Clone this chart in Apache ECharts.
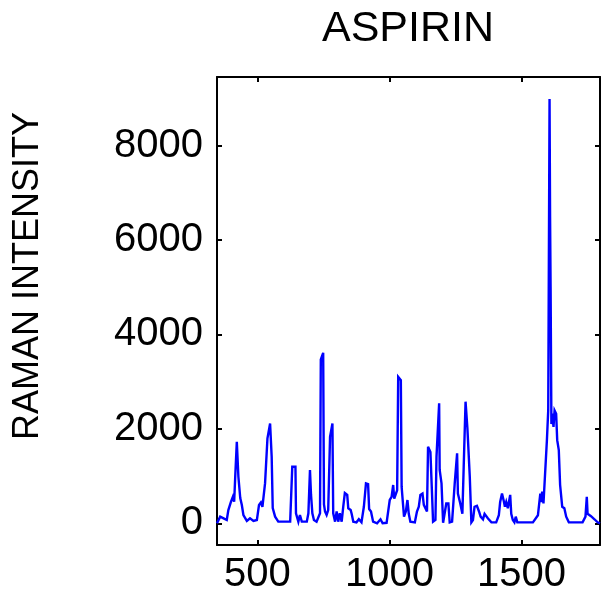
<!DOCTYPE html>
<html>
<head>
<meta charset="utf-8">
<script src="https://cdn.jsdelivr.net/npm/echarts@6/dist/echarts.min.js"></script>
<style>
html,body{margin:0;padding:0;background:#fff;}
#chart{width:603px;height:596px;}
</style>
</head>
<body>
<div id="chart"></div>
<script>
const titleText = "ASPIRIN";
const yAxisTitle = "RAMAN INTENSITY";
const xTicks = [500, 1000, 1500];
const yTicks = [0, 2000, 4000, 6000, 8000];

const wavenumber = [
  347,359,372,384,390,400,407,412,416,422,428,435,441,447,460,472,485,498,506,513,
  519,529,538,548,554,558,567,579,624,630,632,644,646,651,655,661,668,687,693,699,
  703,708,714,724,737,740,749,752,756,762,768,775,784,787,794,800,806,812,819,825,
  831,835,840,844,853,857,863,875,884,894,903,911,919,923,930,938,953,966,974,989,
  1001,1008,1014,1018,1024,1029,1033,1043,1046,1052,1055,1062,1068,1073,1079,1096,1104,1111,1117,1125,
  1130,1137,1142,1146,1155,1161,1165,1174,1178,1188,1190,1197,1203,1209,1215,1223,1228,1237,1247,1256,
  1259,1268,1276,1281,1288,1295,1304,1310,1316,1322,1331,1339,1345,1354,1360,1367,1373,1386,1404,1414,
  1419,1426,1432,1437,1442,1448,1457,1461,1467,1473,1478,1484,1543,1562,1571,1575,1578,1583,1590,1596,
  1601,1606,1608,1610,1613,1616,1621,1625,1631,1635,1641,1646,1650,1654,1662,1669,1679,1731,1742,1747,
  1750,1763,1776,1788,1797
];
const intensity = [
  0,140,105,70,280,456,560,456,985,1725,985,535,387,175,50,105,50,70,387,440,
  350,850,1800,2114,1410,320,140,34,34,70,1197,1197,211,175,34,175,34,34,211,1127,
  600,211,70,34,211,3470,3610,400,250,175,280,1830,2114,211,34,250,34,211,34,350,
  640,668,600,317,281,197,34,20,85,20,350,845,830,300,250,34,0,85,0,10,
  493,560,810,520,540,700,3100,3030,770,350,140,250,493,200,34,20,250,350,600,630,
  390,350,250,1620,1510,630,34,70,1410,2540,1130,845,10,0,420,420,20,34,845,1480,
  630,420,200,1200,2575,2010,985,20,70,350,370,250,140,85,200,170,100,20,20,170,
  450,630,490,350,450,317,600,200,70,20,140,20,20,170,630,450,670,420,420,1760,
  2390,8985,6500,5000,2100,2320,2040,2390,2320,1760,1550,810,775,350,317,140,20,20,140,560,
  200,150,85,20,0
];

const seriesData = wavenumber.map((w, i) => [w, intensity[i]]);

const FONT = "'Liberation Sans', Arial, Helvetica, sans-serif";
const chart = echarts.init(document.getElementById('chart'), null, {renderer: 'canvas'});

const axisLineStyle = {show: true, onZero: false, lineStyle: {color: '#000', width: 2}};
const tickStyle = {color: '#000', width: 2};
const plain = v => String(v);

chart.setOption({
  animation: false,
  backgroundColor: '#fff',
  grid: {left: 217, right: 3, top: 77, bottom: 51, containLabel: false},
  xAxis: [
    {type: 'value', min: 347, max: 1797, position: 'bottom',
      axisLine: axisLineStyle, splitLine: {show: false},
      axisTick: {show: true, inside: true, length: 5, lineStyle: tickStyle, customValues: xTicks},
      axisLabel: {show: true, customValues: xTicks, formatter: plain, color: '#000', fontFamily: FONT, fontSize: 40, margin: 10}},
    {type: 'value', min: 347, max: 1797, position: 'top',
      axisLine: axisLineStyle, splitLine: {show: false},
      axisTick: {show: true, inside: true, length: 5, lineStyle: tickStyle, customValues: xTicks},
      axisLabel: {show: false}}
  ],
  yAxis: [
    {type: 'value', min: -460, max: 9450, position: 'left',
      axisLine: axisLineStyle, splitLine: {show: false},
      axisTick: {show: true, inside: true, length: 5, lineStyle: tickStyle, customValues: yTicks},
      axisLabel: {show: true, customValues: yTicks, formatter: plain, color: '#000', fontFamily: FONT, fontSize: 40, margin: 14}},
    {type: 'value', min: -460, max: 9450, position: 'right',
      axisLine: axisLineStyle, splitLine: {show: false},
      axisTick: {show: true, inside: true, length: 5, lineStyle: tickStyle, customValues: yTicks},
      axisLabel: {show: false}}
  ],
  graphic: [
    {type: 'text', x: 408, y: 29, style: {text: titleText, fill: '#000', font: '43px ' + FONT, textAlign: 'center', textVerticalAlign: 'middle'}},
    {type: 'text', x: 28, y: 276, rotation: Math.PI / 2, style: {text: yAxisTitle, fill: '#000', font: '36px ' + FONT, textAlign: 'center', textVerticalAlign: 'middle'}}
  ],
  series: [{
    type: 'line',
    data: seriesData,
    showSymbol: false,
    symbol: 'none',
    xAxisIndex: 0, yAxisIndex: 0,
    lineStyle: {color: '#0000ff', width: 2.4, join: 'miter', miterLimit: 4},
    clip: true
  }]
});
</script>
</body>
</html>
